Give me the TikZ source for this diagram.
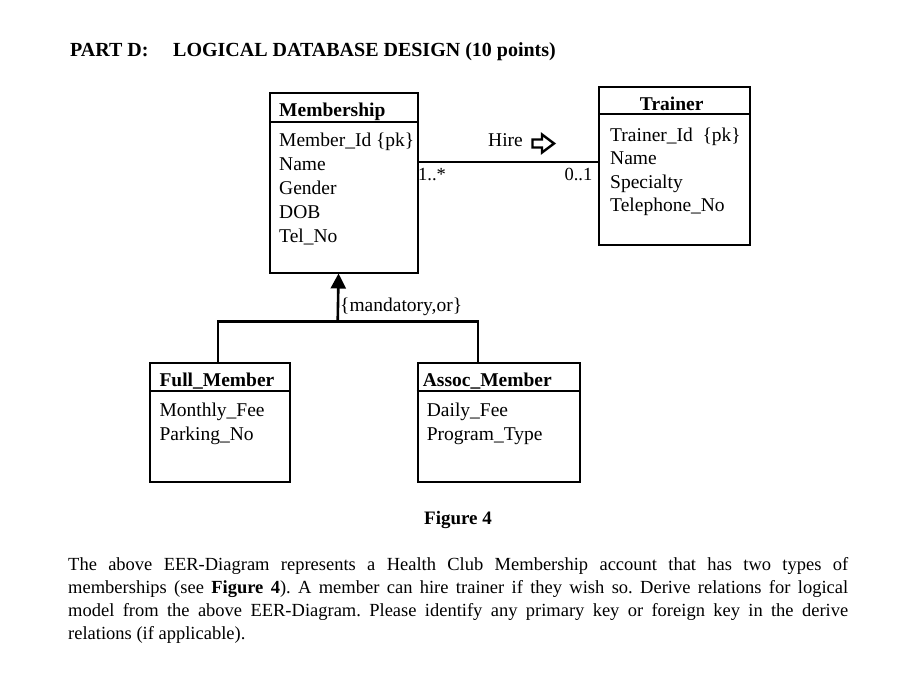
\documentclass[tikz,border=0pt]{standalone}
\usepackage{fontspec}
\setmainfont{Liberation Serif}
\usetikzlibrary{arrows.meta,positioning}
\frenchspacing

\begin{document}
\begin{tikzpicture}[x=1pt,y=-1pt,
  ent/.style={draw,line width=1.8pt,anchor=north west,inner sep=0pt},
  ttl/.style={font=\fontsize{19.5}{24}\selectfont\bfseries,inner sep=0pt},
  attr/.style={font=\fontsize{19.5}{24}\selectfont,inner sep=0pt,anchor=base west},
  mult/.style={font=\fontsize{18.5}{22}\selectfont,inner sep=0pt},
  link/.style={draw,line width=2.6pt},
  head/.style={font=\fontsize{20}{24}\selectfont\bfseries,inner sep=0pt,anchor=base west},
  para/.style={font=\fontsize{18.5}{23}\selectfont,inner sep=0pt,text width=780pt,
    align=justify,anchor=base west}]
\useasboundingbox (0,0) rectangle (908,696);

% ============ HEADING ============
\node[head] (part) at (70,56) {PART D:};
\node[head] (topic) at (173,56) {LOGICAL DATABASE DESIGN (10 points)};

% ============ MEMBERSHIP ============
\node[ent,minimum width=147.7pt,minimum height=180pt] (mem) at (269,91.7) {};
\draw[line width=1.8pt] ([yshift=-30pt]mem.north west) -- ([yshift=-30pt]mem.north east);
\node[ttl,anchor=base west] (memttl) at (279,116.7) {Membership};
\foreach \t [count=\i] in {Member\_Id \{pk\},Name,Gender,DOB,Tel\_No}
  \node[attr] (mem\i) at (279,{146.5+24*(\i-1)}) {\t};

% ============ TRAINER ============
\node[ent,minimum width=151pt,minimum height=158.3pt] (trn) at (598.3,86) {};
\draw[line width=1.8pt] ([yshift=-28.3pt]trn.north west) -- ([yshift=-28.3pt]trn.north east);
\node[ttl,anchor=base] (trnttl) at (671.7,110) {Trainer};
\foreach \t [count=\i] in {Trainer\_Id\ \ \{pk\},Name,Specialty,Telephone\_No}
  \node[attr] (trn\i) at (610,{141.2+23.5*(\i-1)}) {\t};

% hire association
\coordinate (hireend) at ([yshift=4.2pt]trn.west);
\draw[link] (mem.east |- hireend) -- (hireend);
\node[mult,anchor=base west] (mulmem) at (418,180) {1..*};
\node[mult,anchor=base east] (multrn) at (592.5,180) {0..1};
\node[attr] (hire) at (488,146.7) {Hire};
\draw[line width=2.4pt,line join=miter]
  (532.5,139.5) -- (542,139.5) -- (542,134.5) -- (554,143.5) -- (542,152.5)
  -- (542,147.5) -- (532.5,147.5) -- cycle;

% ============ SUBTYPES ============
\node[ent,minimum width=140pt,minimum height=119.3pt] (full) at (149,361.7) {};
\draw[line width=1.8pt] ([yshift=-29.3pt]full.north west) -- ([yshift=-29.3pt]full.north east);
\node[ttl,anchor=base west] (fullttl) at (159.3,386.7) {Full\_Member};
\foreach \t [count=\i] in {Monthly\_Fee,Parking\_No}
  \node[attr] (full\i) at (159.3,{416.7+23.5*(\i-1)}) {\t};

\node[ent,minimum width=162.6pt,minimum height=119.3pt] (assoc) at (416.7,361.7) {};
\draw[line width=1.8pt] ([yshift=-29.3pt]assoc.north west) -- ([yshift=-29.3pt]assoc.north east);
\node[ttl,anchor=base west] (assocttl) at (422.7,386.7) {Assoc\_Member};
\foreach \t [count=\i] in {Daily\_Fee,Program\_Type}
  \node[attr] (assoc\i) at (426.7,{416.7+23.5*(\i-1)}) {\t};

% generalization
\coordinate (bar) at (337.7,321.7);
\draw[link] ([xshift=-2pt]full.north) |- (bar) -| ([xshift=-20.8pt]assoc.north);
\draw[link,-{Triangle[width=15pt,length=15pt]}] (bar) -- ([xshift=-5.2pt]mem.south);
\node[attr] (constr) at (340,311.7) {\{mandatory,or\}};

% ============ CAPTION + TEXT ============
\node[ttl,font=\fontsize{19}{23}\selectfont\bfseries,anchor=base] (cap) at (458,524) {Figure 4};
\node[para] (desc) at (68,570) {\hyphenpenalty=10000\exhyphenpenalty=10000
  The above EER-Diagram represents a Health Club Membership account that has two types of\linebreak
  memberships (see \textbf{Figure 4}). A member can hire trainer if they wish so. Derive relations for logical\linebreak
  model from the above EER-Diagram. Please identify any primary key or foreign key in the derive\linebreak
  relations (if applicable).};

\end{tikzpicture}
\end{document}
